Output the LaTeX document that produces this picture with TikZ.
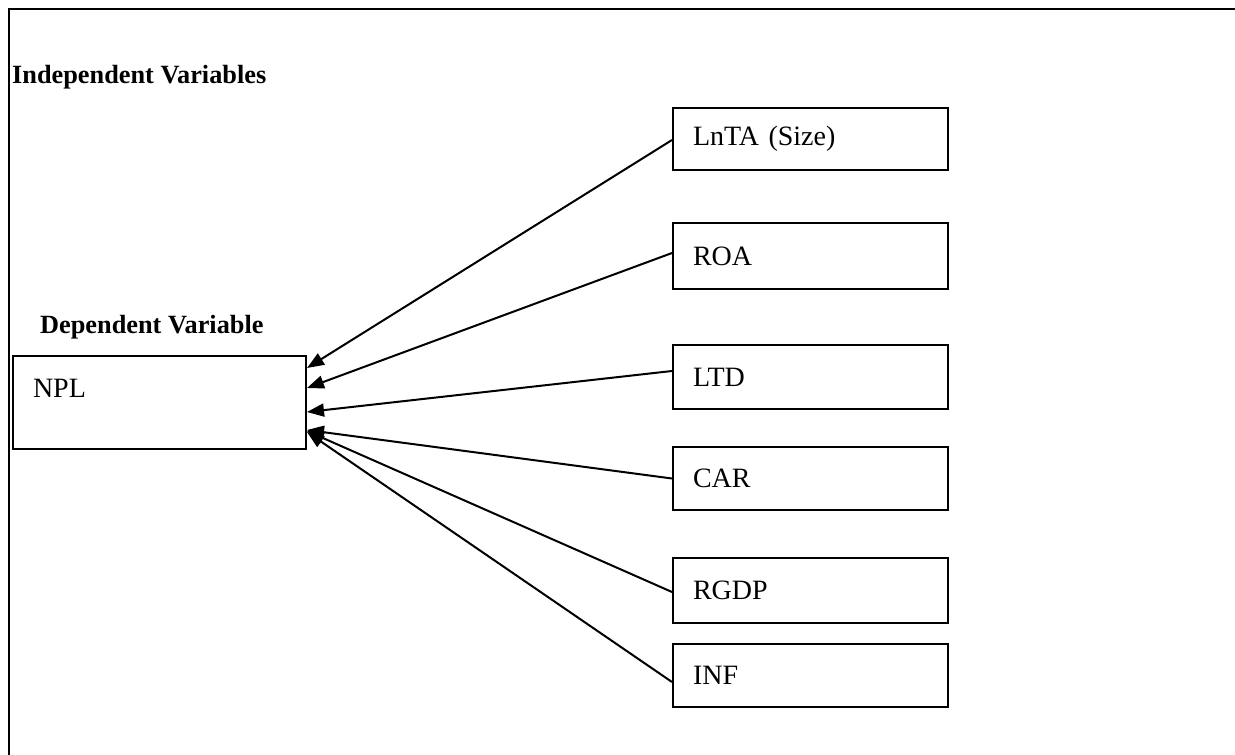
\documentclass[tikz,border=0pt]{standalone}
\usepackage{fontspec}
\setmainfont{Liberation Serif}
\usetikzlibrary{arrows.meta}
\begin{document}
\begin{tikzpicture}[x=1pt,y=-1pt,
  varbox/.style={draw, line width=2pt, minimum width=275pt, text width=235pt, inner xsep=20pt, inner ysep=0pt, align=left, font=\fontsize{28}{32}\selectfont},
  heading/.style={anchor=base west, inner sep=0pt, font=\fontsize{26.3}{30}\selectfont\bfseries},
  conn/.style={line width=2pt, -{Triangle[length=17pt,width=13pt]}}]
\useasboundingbox (0,0) rectangle (1235,755);
\fill[white] (0,0) rectangle (1235,755);
% frame lines (top and left only)
\draw[line width=2.5pt] (8,9) -- (1235,9);
\draw[line width=2.5pt] (9,9) -- (9,755);
% headings
\node[heading] (indep) at (12,83) {Independent Variables};
\node[heading] (dep) at (40,333) {Dependent Variable};
% dependent box
\node[varbox, minimum width=293pt, text width=253pt, minimum height=93pt, text height=18pt, text depth=29pt] (npl) at (159.5,402.5) {NPL};
% independent boxes
\node[varbox, minimum height=62pt] (lnta) at (810.5,139) {LnTA (Size)};
\node[varbox, minimum height=66pt] (roa) at (810.5,256) {ROA};
\node[varbox, minimum height=64pt] (ltd) at (810.5,377) {LTD};
\node[varbox, minimum height=63pt] (car) at (810.5,478.5) {CAR};
\node[varbox, minimum height=65pt] (rgdp) at (810.5,590.5) {RGDP};
\node[varbox, minimum height=63pt] (inf) at (810.5,675.5) {INF};
% connectors
\draw[conn] ([yshift=-1pt]lnta.west) -- ([yshift=34.5pt]npl.east);
\draw[conn] ([yshift=3pt]roa.west) -- ([yshift=14.5pt]npl.east);
\draw[conn] ([yshift=6pt]ltd.west) -- ([yshift=-9.5pt]npl.east);
\draw[conn] ([yshift=0pt]car.west) -- ([yshift=-27.5pt]npl.east);
\draw[conn] ([yshift=-1.5pt]rgdp.west) -- ([yshift=-28.5pt]npl.east);
\draw[conn] ([yshift=-6.5pt]inf.west) -- ([yshift=-29.5pt]npl.east);
\end{tikzpicture}
\end{document}
